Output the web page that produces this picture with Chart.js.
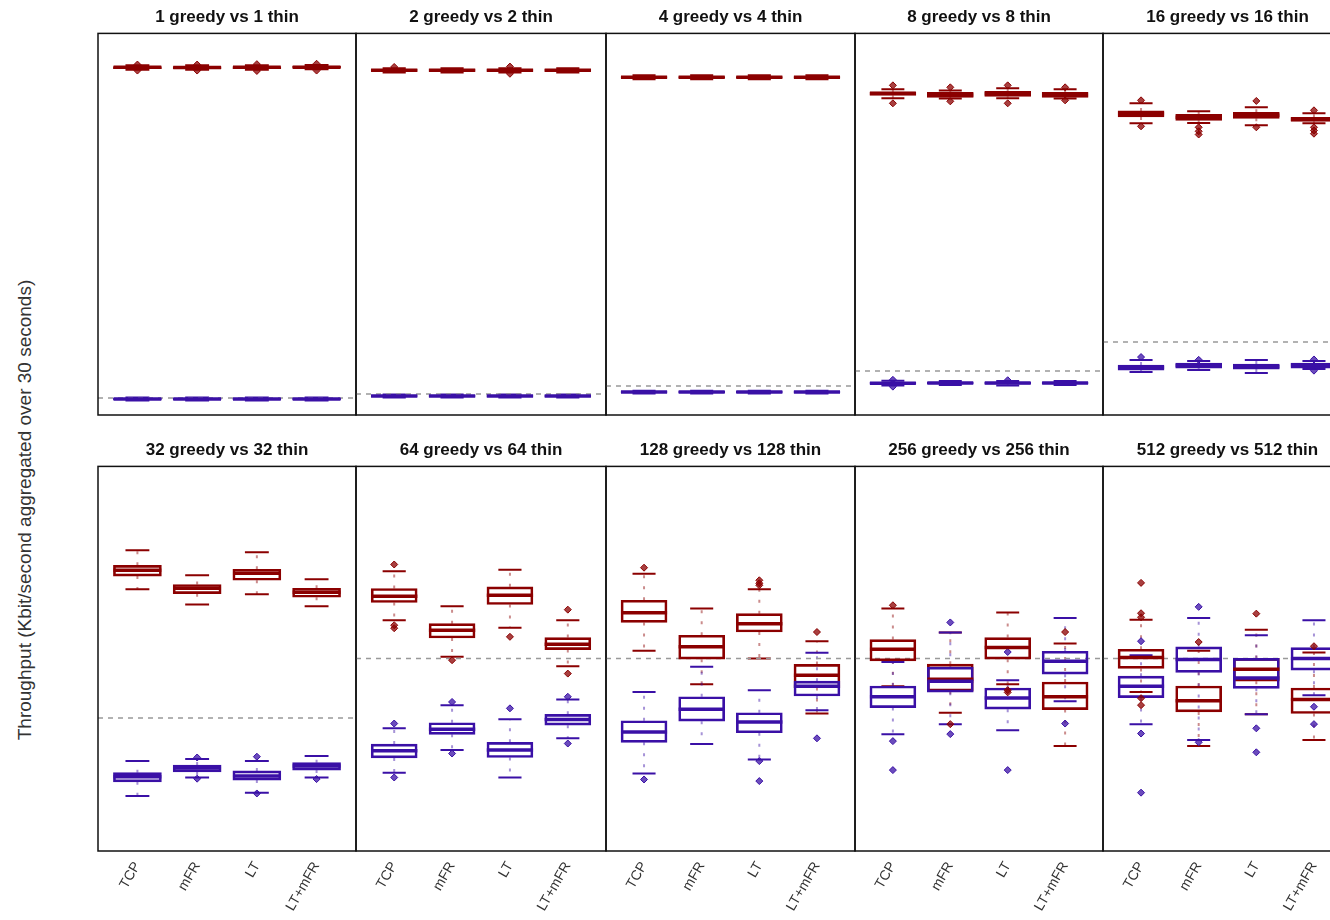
<!DOCTYPE html>
<html>
<head>
<script src="https://cdn.jsdelivr.net/npm/chart.js@4"></script>
<style>
  html, body { margin: 0; padding: 0; background: #fff; overflow: hidden; }
  #page { position: relative; width: 1330px; height: 920px; overflow: hidden; }
  .panel { position: absolute; }
  #ylabel {
    position: absolute; left: 25px; top: 510px;
    transform: translate(-50%, -50%) rotate(-90deg);
    white-space: nowrap; font: 19px "Liberation Sans", Arial, sans-serif; color: #333;
  }
</style>
</head>
<body>
<div id="page">
  <div id="ylabel">Throughput (Kbit/second aggregated over 30 seconds)</div>
</div>
<script>
// ---- data ----
const categories = ['TCP', 'mFR', 'LT', 'LT+mFR'];

const panelTitles = [
  '1 greedy vs 1 thin', '2 greedy vs 2 thin', '4 greedy vs 4 thin', '8 greedy vs 8 thin', '16 greedy vs 16 thin',
  '32 greedy vs 32 thin', '64 greedy vs 64 thin', '128 greedy vs 128 thin', '256 greedy vs 256 thin', '512 greedy vs 512 thin'
];

// dashed reference line per panel
const fairShare = [42.5, 52.5, 72.5, 110, 182.5, 333, 482, 482, 482, 482];

// [low whisker, q1, median, q3, high whisker] per category, per panel
const greedyStats = [
  [[864, 867, 870, 872, 875], [864, 867, 869.5, 872, 875], [864, 867, 870, 872, 875], [865, 868, 870.5, 873, 876]],
  [[857, 860, 862.5, 865, 868], [857, 860, 862.5, 865, 868], [857, 860, 862.5, 865, 868], [857, 860, 862.5, 865, 868]],
  [[840, 843, 845, 847, 850], [840, 843, 845, 847, 850], [840, 843, 845, 847, 850], [840, 843, 845, 847, 850]],
  [[793, 800, 805, 808, 815], [792, 795, 801, 807.5, 812], [793, 797.5, 804, 810, 817.5], [792, 795, 801, 807.5, 815]],
  [[730, 746, 754, 761, 780], [731, 737.5, 745, 752.5, 760], [725, 742.5, 750, 757.5, 770], [730, 735, 740, 745, 755]],
  [[655, 688, 702.5, 715, 752.5], [617, 644, 657.5, 667, 690], [642.5, 677.5, 695, 705, 747.5], [612.5, 635, 647.5, 657.5, 680]],
  [[577.5, 622, 637.5, 657, 700], [486, 533, 552.5, 569, 612.5], [559, 617, 640, 661, 704], [462.5, 504, 517.5, 534, 577.5]],
  [[501, 572, 596, 627.5, 694], [417.5, 480, 511, 540, 607], [482, 548, 569, 594, 655], [344, 409, 440, 467, 525]],
  [[412.5, 476, 505, 529, 607], [346, 400, 430, 467.5, 547], [417.5, 480, 509, 534, 597], [263, 354, 386, 423, 519]],
  [[398, 457, 484, 505, 579], [263, 348, 376, 413, 501], [342.5, 425, 455, 482, 554], [277.5, 344, 379, 408, 497]]
];

const thinStats = [
  [[36, 38.5, 40, 41.5, 44], [36, 38.5, 40, 41.5, 44], [36, 38.5, 40, 41.5, 44], [36, 38.5, 40, 41.5, 44]],
  [[44, 46, 47.5, 49, 51], [44, 46, 47.5, 49, 51], [44, 46, 47.5, 49, 51], [44, 46, 47.5, 49, 51]],
  [[54, 56, 57.5, 59, 61], [54, 56, 57.5, 59, 61], [54, 56, 57.5, 59, 61], [54, 56, 57.5, 59, 61]],
  [[74, 77, 79.5, 82, 86], [75, 78, 80, 82, 85], [74, 77, 80, 82, 85], [75, 78, 80, 82, 85]],
  [[107.5, 112.5, 119, 125, 137.5], [112.5, 117.5, 124, 130, 135], [105, 115, 121, 127.5, 137.5], [115, 117.5, 125, 130, 135]],
  [[137.5, 173, 186, 196, 225], [184, 198, 207.5, 215, 230], [146, 177.5, 187.5, 200.5, 225], [184, 202.5, 212.5, 221, 238]],
  [[196, 233, 251, 267.5, 307], [252.5, 292, 305, 321, 365], [184, 234, 252.5, 272, 330], [282, 315, 329, 342, 379]],
  [[194, 272, 298, 326, 398], [267.5, 325, 355, 386, 461], [229, 296, 323, 346, 402.5], [352, 388, 412.5, 425, 496]],
  [[292, 359, 386, 413, 473], [317, 397.5, 425, 460, 547], [302.5, 355, 383, 408, 427.5], [375, 442.5, 475, 500, 583]],
  [[317, 384, 412.5, 437.5, 490], [277.5, 447, 479, 511, 583], [342.5, 407, 433, 482, 540], [390, 452.5, 482, 509, 577.5]]
];

const greedyOutliers = [
  [[877, 862], [877, 862], [878, 861], [879, 862]],
  [[871], [], [872, 854], []],
  [[], [], [], []],
  [[825, 780], [820, 785], [825, 780], [820, 787.5]],
  [[787.5, 722.5], [720, 710, 702], [786, 720], [762.5, 720, 712, 704]],
  [[], [], [], []],
  [[717, 565, 557.5], [477.5], [536], [604, 444]],
  [[709], [], [677.5, 670, 665], [548]],
  [[615], [317.5], [402.5, 397], [548]],
  [[671, 595, 585, 382.5, 365], [523], [594], [512.5]]
];

const thinOutliers = [
  [[], [], [], []],
  [[], [], [], []],
  [[], [], [], []],
  [[88, 71], [], [87], []],
  [[145], [138], [], [139, 111]],
  [[], [234, 181], [236, 144], [180]],
  [[319, 184], [373, 244], [357], [386, 269]],
  [[179], [], [225, 175], [282]],
  [[275, 202.5], [572, 292.5], [498, 202.5], [319]],
  [[525, 294, 146], [611, 272], [307, 247], [361, 317.5]]
];

// ---- layout / style ----
const RED = '#8b0000';
const BLUE = '#3a10a6';
const RED_SOFT = 'rgba(139,0,0,0.45)';
const BLUE_SOFT = 'rgba(58,16,166,0.45)';
const RED_DOT = 'rgba(139,0,0,0.75)';
const BLUE_DOT = 'rgba(58,16,166,0.75)';
const FONT = '"Liberation Sans", Arial, sans-serif';
const X_MIN = 0.34, X_MAX = 4.66;

const panelLeft = [98, 356, 606, 855, 1103];
const panelWidth = [258, 250, 249, 248, 249];
const rows = [
  { top: 0, height: 416, yMax: 955, labels: false },
  { top: 433, height: 483, yMax: 962.5, labels: true }
];

// whiskers, caps, medians and panel frame
const boxPlugin = {
  id: 'boxes',
  beforeDatasetsDraw(chart, args, opts) {
    const ctx = chart.ctx, xs = chart.scales.x, ys = chart.scales.y, a = chart.chartArea;
    const half = xs.getPixelForValue(1.2) - xs.getPixelForValue(1);
    ctx.save();
    ctx.beginPath();
    ctx.rect(a.left, a.top, a.right - a.left, a.bottom - a.top);
    ctx.clip();
    opts.series.forEach(s => {
      s.stats.forEach((st, i) => {
        const x = xs.getPixelForValue(i + 1);
        const [lo, q1, , q3, hi] = st.map(v => ys.getPixelForValue(v));
        ctx.strokeStyle = s.soft;
        ctx.lineWidth = 2;
        ctx.setLineDash([3, 8]);
        ctx.beginPath();
        ctx.moveTo(x, q1); ctx.lineTo(x, lo);
        ctx.moveTo(x, q3); ctx.lineTo(x, hi);
        ctx.stroke();
        ctx.setLineDash([]);
        ctx.strokeStyle = s.color;
        ctx.beginPath();
        ctx.moveTo(x - half, lo); ctx.lineTo(x + half, lo);
        ctx.moveTo(x - half, hi); ctx.lineTo(x + half, hi);
        ctx.stroke();
      });
    });
    ctx.restore();
  },
  afterDatasetsDraw(chart, args, opts) {
    const ctx = chart.ctx, xs = chart.scales.x, ys = chart.scales.y, a = chart.chartArea;
    const half = xs.getPixelForValue(1.4) - xs.getPixelForValue(1);
    ctx.save();
    opts.series.forEach(s => {
      s.stats.forEach((st, i) => {
        const x = xs.getPixelForValue(i + 1);
        const m = ys.getPixelForValue(st[2]);
        ctx.strokeStyle = s.color;
        ctx.lineWidth = 3.5;
        ctx.beginPath();
        ctx.moveTo(x - half, m); ctx.lineTo(x + half, m);
        ctx.stroke();
      });
    });
    ctx.strokeStyle = '#111';
    ctx.lineWidth = 1.5;
    ctx.strokeRect(a.left, a.top, a.right - a.left, a.bottom - a.top);
    ctx.restore();
  }
};

function boxDataset(stats, color, order, thickness) {
  return {
    type: 'bar',
    data: stats.map((s, i) => ({ x: i + 1, y: [s[1], s[3]] })),
    backgroundColor: 'rgba(255,255,255,0)',
    borderColor: color,
    borderWidth: 2,
    borderSkipped: false,
    grouped: false,
    barThickness: thickness,
    order: order
  };
}

function outlierDataset(outs, color, fill, order) {
  const pts = [];
  outs.forEach((list, i) => list.forEach(v => pts.push({ x: i + 1, y: v })));
  return {
    type: 'scatter',
    data: pts,
    pointStyle: 'rectRot',
    pointRadius: 3.5,
    backgroundColor: fill,
    borderColor: color,
    borderWidth: 1,
    order: order
  };
}

const page = document.getElementById('page');

panelTitles.forEach((title, p) => {
  const row = rows[Math.floor(p / 5)];
  const col = p % 5;
  const div = document.createElement('div');
  div.className = 'panel';
  div.style.left = (panelLeft[col] - 1) + 'px';
  div.style.top = row.top + 'px';
  div.style.width = (panelWidth[col] + 2) + 'px';
  div.style.height = row.height + 'px';
  const canvas = document.createElement('canvas');
  div.appendChild(canvas);
  page.appendChild(div);

  const barPx = Math.round(0.8 * panelWidth[col] / (X_MAX - X_MIN));

  const xScale = {
    type: 'linear',
    min: X_MIN,
    max: X_MAX,
    offset: false,
    display: row.labels,
    grid: { display: false, drawTicks: false },
    border: { display: false },
    afterBuildTicks: axis => { axis.ticks = [1, 2, 3, 4].map(v => ({ value: v })); },
    ticks: {
      autoSkip: false,
      minRotation: 60,
      maxRotation: 60,
      padding: 8,
      color: '#333',
      font: { family: FONT, size: 14 },
      callback: v => categories[v - 1] || ''
    }
  };
  if (row.labels) xScale.afterFit = axis => { axis.height = 65; };

  new Chart(canvas, {
    type: 'bar',
    data: {
      datasets: [
        {
          type: 'line',
          data: [{ x: X_MIN, y: fairShare[p] }, { x: X_MAX, y: fairShare[p] }],
          borderColor: '#999',
          borderWidth: 1.5,
          borderDash: [5, 5],
          pointRadius: 0,
          order: 6
        },
        boxDataset(greedyStats[p], RED, 4, barPx),
        boxDataset(thinStats[p], BLUE, 3, barPx),
        outlierDataset(greedyOutliers[p], RED, RED_DOT, 2),
        outlierDataset(thinOutliers[p], BLUE, BLUE_DOT, 1)
      ]
    },
    options: {
      responsive: true,
      maintainAspectRatio: false,
      animation: false,
      events: [],
      layout: { autoPadding: false, padding: { left: 1, right: 1, top: 0, bottom: row.labels ? 0 : 1 } },
      scales: {
        x: xScale,
        y: { min: 0, max: row.yMax, display: false }
      },
      plugins: {
        legend: { display: false },
        tooltip: { enabled: false },
        title: {
          display: true,
          text: title,
          color: '#111',
          font: { family: FONT, size: 17, weight: 'bold' },
          padding: { top: 7, bottom: 6 }
        },
        boxes: {
          series: [
            { stats: greedyStats[p], color: RED, soft: RED_SOFT },
            { stats: thinStats[p], color: BLUE, soft: BLUE_SOFT }
          ]
        }
      }
    },
    plugins: [boxPlugin]
  });
});
</script>
</body>
</html>
